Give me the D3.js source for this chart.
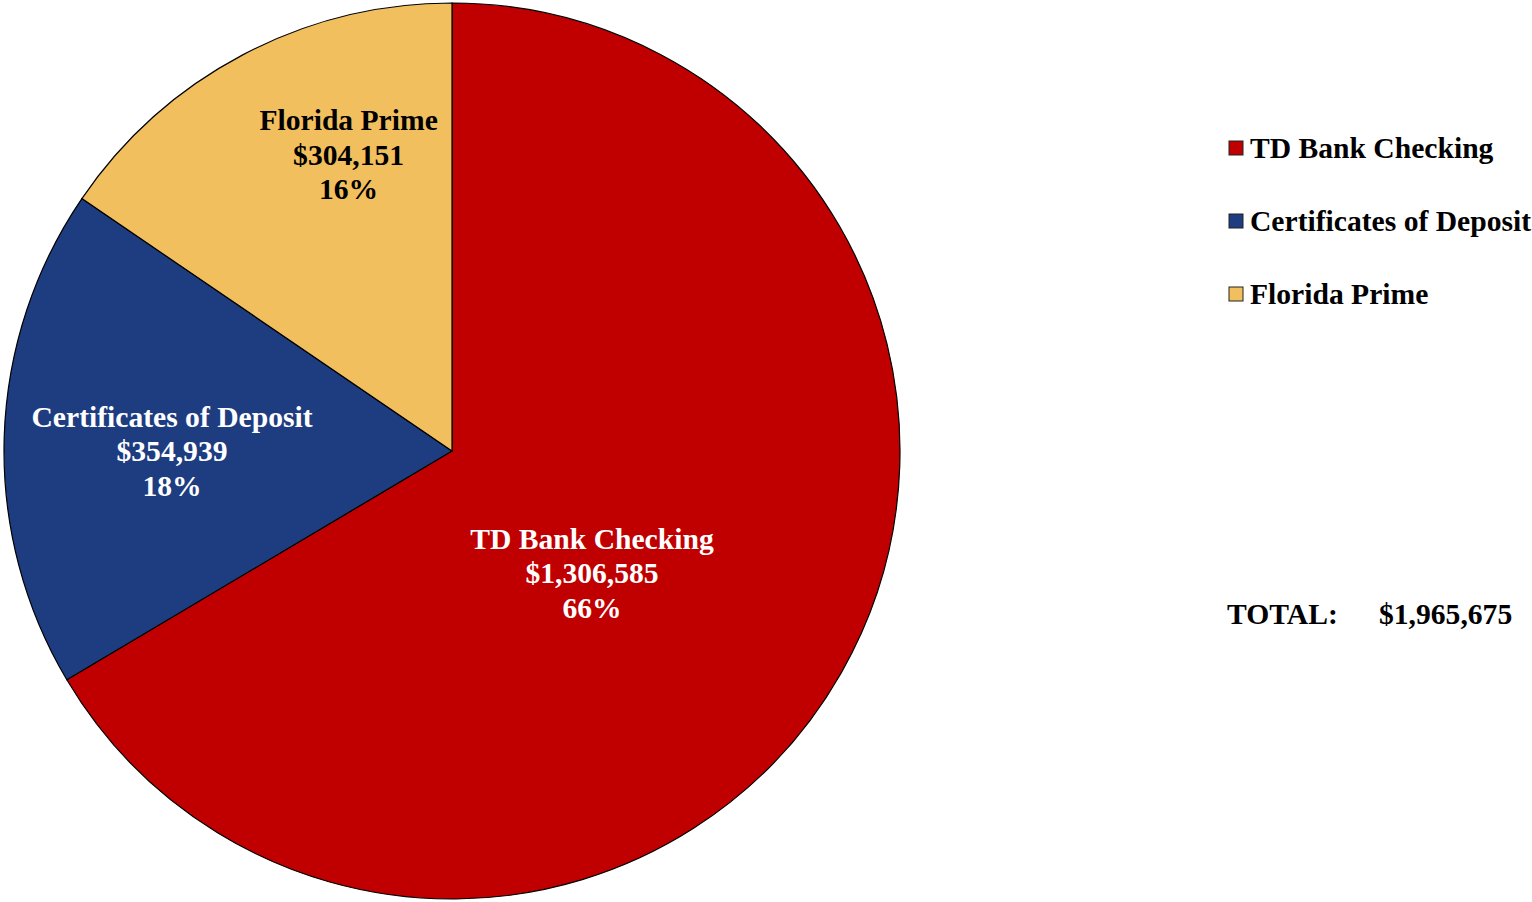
<!DOCTYPE html>
<html>
<head>
<meta charset="utf-8">
<script src="https://cdn.jsdelivr.net/npm/d3@7"></script>
<style>
  html, body { margin: 0; padding: 0; background: #fff; }
  svg { display: block; }
  text { font-family: "Liberation Serif", "Times New Roman", serif; font-weight: bold; }
</style>
</head>
<body>
<svg id="chart" width="1532" height="902"></svg>
<script>
// ---- data ----
const categories = ["TD Bank Checking", "Certificates of Deposit", "Florida Prime"];
const values = [1306585, 354939, 304151];
const percentLabels = ["66%", "18%", "16%"];
const colors = ["#c00000", "#1e3c80", "#f2bf5f"];
const labelColors = ["#ffffff", "#ffffff", "#000000"];
const totalLabel = "TOTAL:";

// ---- layout ----
const W = 1532, H = 902;
const cx = 452, cy = 451, R = 448;
const labelRadiusFrac = [0.415, 0.625, 0.70];
const labelAngleShiftDeg = [11.5, -1.8, 8.6];
const fontSize = 29.6;

const svg = d3.select("#chart");
const total = d3.sum(values);
const fmtMoney = v => "$" + d3.format(",")(v);

const pie = d3.pie().sort(null).value(d => d.value);
const data = categories.map((c, i) => ({ name: c, value: values[i], i }));
const arcs = pie(data);
const arc = d3.arc().innerRadius(0).outerRadius(R);

const g = svg.append("g").attr("transform", `translate(${cx},${cy})`);
g.selectAll("path.slice")
  .data(arcs)
  .join("path")
  .attr("class", "slice")
  .attr("d", arc)
  .attr("fill", d => colors[d.data.i])
  .attr("stroke", "#000")
  .attr("stroke-width", 1.2);

// labels
const lineH = 34.5;
arcs.forEach(a => {
  const i = a.data.i;
  const mid = (a.startAngle + a.endAngle) / 2 + labelAngleShiftDeg[i] * Math.PI / 180;
  const r = R * labelRadiusFrac[i];
  const x = Math.sin(mid) * r;
  const y = -Math.cos(mid) * r;
  const lines = [a.data.name, fmtMoney(a.data.value), percentLabels[i]];
  const t = g.append("text")
    .attr("text-anchor", "middle")
    .attr("fill", labelColors[i])
    .attr("font-size", fontSize);
  lines.forEach((ln, k) => {
    t.append("tspan")
      .attr("x", x)
      .attr("y", y + (k - 1) * lineH)
      .attr("dominant-baseline", "central")
      .text(ln);
  });
});

// legend
const legendX = 1229, legendY0 = 148, legendStep = 73, sw = 14;
const lg = svg.append("g");
categories.forEach((c, i) => {
  const y = legendY0 + i * legendStep;
  lg.append("rect")
    .attr("x", legendX).attr("y", y - sw / 2)
    .attr("width", sw).attr("height", sw)
    .attr("fill", colors[i])
    .attr("stroke", "#222").attr("stroke-width", 1);
  lg.append("text")
    .attr("x", legendX + sw + 7).attr("y", y)
    .attr("dominant-baseline", "central")
    .attr("font-size", fontSize)
    .attr("fill", "#000")
    .text(c);
});

// total
svg.append("text")
  .attr("x", 1227).attr("y", 614)
  .attr("dominant-baseline", "central")
  .attr("font-size", fontSize)
  .text(totalLabel);
svg.append("text")
  .attr("x", 1379).attr("y", 614)
  .attr("dominant-baseline", "central")
  .attr("font-size", fontSize)
  .text(fmtMoney(total));
</script>
</body>
</html>
